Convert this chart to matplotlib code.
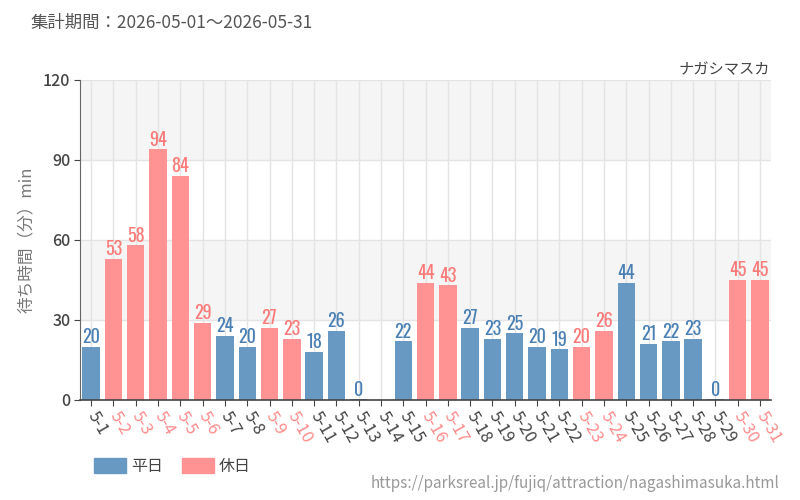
import matplotlib
matplotlib.use("Agg")
import matplotlib.pyplot as plt
from matplotlib.patches import Patch
import numpy as np

plt.rcParams['font.family'] = ['Noto Sans CJK JP', 'DejaVu Sans']

days = [f"5-{d}" for d in range(1, 32)]
values = [20, 53, 58, 94, 84, 29, 24, 20, 27, 23, 18, 26, 0, np.nan, 22, 44, 43,
          27, 23, 25, 20, 19, 20, 26, 44, 21, 22, 23, 0, 45, 45]
holiday = [0, 1, 1, 1, 1, 1, 0, 0, 1, 1, 0, 0, 0, 0, 0, 1, 1,
           0, 0, 0, 0, 0, 1, 1, 0, 0, 0, 0, 0, 1, 1]
yticks = [0, 30, 60, 90, 120]
title = "集計期間：2026-05-01～2026-05-31"
ylabel = "待ち時間（分）min"
name = "ナガシマスカ"
url = "https://parksreal.jp/fujiq/attraction/nagashimasuka.html"
legend_labels = ["平日", "休日"]

bar_c = {0: "#6899c3", 1: "#ff9393"}
lab_c = {0: "#4a80b4", 1: "#fb7a7a"}
tick_c = {0: "#444444", 1: "#ff8c8c"}

fig = plt.figure(figsize=(8, 5), dpi=100)
ax = fig.add_axes([0.1, 0.2, 0.864, 0.64])

x = np.arange(len(days))
ax.set_xlim(-0.5, len(days) - 0.5)
ax.set_ylim(0, 120)

for lo, hi, c in [(30, 60, "#f5f5f5"), (90, 120, "#f5f5f5")]:
    ax.axhspan(lo, hi, color=c, zorder=0, lw=0)

for xi in x:
    ax.axvline(xi, color="#e4e4e4", lw=1, zorder=0.5)
for yv in yticks[1:]:
    ax.axhline(yv, color="#e4e4e4", lw=1, zorder=0.5)

for xi, v, h in zip(x, values, holiday):
    if np.isnan(v):
        continue
    ax.bar(xi, max(v, 0.5), width=0.78, color=bar_c[h], zorder=2)
    ax.text(xi, v + 0.3, f"{int(v)}", ha="center", va="bottom",
            family=['Oswald', 'DejaVu Sans'], fontweight=300, fontsize=13,
            color=lab_c[h], zorder=3)

ax.set_yticks(yticks)
ax.set_yticklabels([str(t) for t in yticks], fontsize=11.5, color="#444444", fontweight="medium")
ax.set_xticks(x)
ax.set_xticklabels(days, rotation=-60, ha="left", va="center", rotation_mode="anchor", fontsize=12)
for lbl, h in zip(ax.get_xticklabels(), holiday):
    lbl.set_color(tick_c[h])
ax.tick_params(axis="x", length=4, color="#444444", pad=5)
ax.tick_params(axis="y", length=4, color="#444444", pad=3)

for s in ["top", "right"]:
    ax.spines[s].set_visible(False)
ax.spines["left"].set_color("#666666")
ax.spines["bottom"].set_color("#444444")
ax.spines["bottom"].set_linewidth(1.2)

ax.set_ylabel(ylabel, fontsize=12, color="#777777", labelpad=6)

fig.text(0.0375, 0.955, title, fontsize=12.5, color="#555555", ha="left", va="center")
fig.text(0.963, 0.86, name, fontsize=11, color="#444444", ha="right", va="center")
fig.text(0.975, 0.034, url, fontsize=11, color="#999999", ha="right", va="center")

handles = [Patch(color=bar_c[0]), Patch(color=bar_c[1])]
fig.legend(handles, legend_labels, loc="center left", bbox_to_anchor=(0.1, 0.067),
           ncol=2, frameon=False, fontsize=11.5, handlelength=2.0, handleheight=1.0,
           handletextpad=0.3, columnspacing=1.2, labelcolor="#444444")

fig.savefig("out.png", dpi=100)
